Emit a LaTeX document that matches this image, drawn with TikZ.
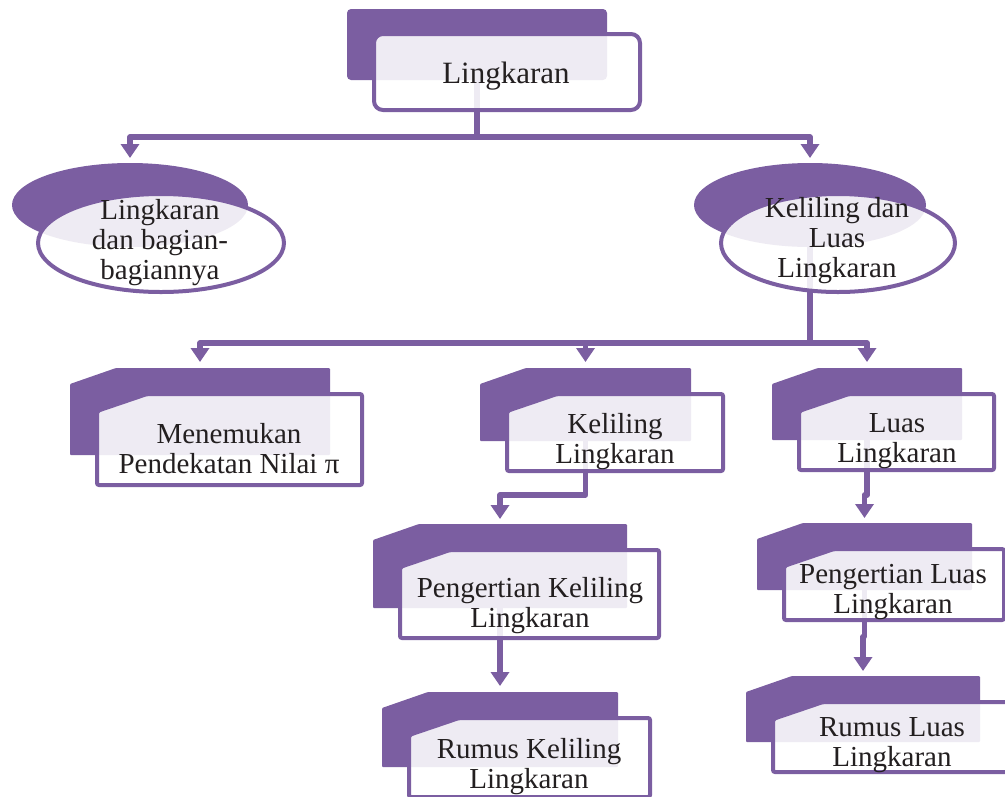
\documentclass[tikz,border=0pt]{standalone}
\usepackage{fontspec}
\setmainfont{Liberation Serif}
\usetikzlibrary{arrows.meta,shapes.geometric}
\definecolor{ungu}{RGB}{123,94,161}
\definecolor{tinta}{RGB}{35,31,32}
\tikzset{
  belakang/.style={inner sep=0pt, outer sep=0pt},
  muka/.style={draw=ungu, line width=4pt, fill=white, fill opacity=0.88, rounded corners=2pt},
  panah/.style={draw=ungu, line width=5.5pt, line join=round, -{Triangle[width=18pt,length=14pt]}},
  tulisan/.style={align=center, inner sep=0pt, text=tinta, font=\fontsize{29}{30}\selectfont}
}
% back shape with cut corner, then the front box over it
\newcommand{\kotak}[1]{%
  \fill[ungu, rounded corners=1pt] ([shift={(0,16)}]#1.north west) -- ([shift={(46,0)}]#1.north west)
    -- (#1.north east) -- (#1.south east) -- (#1.south west) -- cycle;
  \filldraw[muka] ([shift={(27,43)}]#1.north west) -- ([shift={(77,26)}]#1.north west)
    -- ([shift={(32,26)}]#1.north east) -- ([shift={(32,30)}]#1.south east)
    -- ([shift={(27,30)}]#1.south west) -- cycle;
}
\begin{document}
\begin{tikzpicture}[x=1pt,y=-1pt]
	\useasboundingbox (0,0) rectangle (1005,796);
	\clip (0,0) rectangle (1005,796);
	% back shapes
	\node[belakang, minimum width=260pt, minimum height=71pt] (lingk) at (477,44.5) {};
	\node[belakang, ellipse, fill=ungu, minimum width=236pt, minimum height=84pt] (bag) at (130,205) {};
	\node[belakang, ellipse, fill=ungu, minimum width=232pt, minimum height=84pt] (kl) at (810,205) {};
	\node[belakang, minimum width=260pt, minimum height=87pt] (nilai) at (200,411.5) {};
	\node[belakang, minimum width=211pt, minimum height=73pt] (kel) at (585.5,404.5) {};
	\node[belakang, minimum width=190pt, minimum height=72pt] (luas) at (867,404) {};
	\node[belakang, minimum width=254pt, minimum height=84pt] (pkel) at (500,566) {};
	\node[belakang, minimum width=236pt, minimum height=75pt] (rkel) at (500,729.5) {};
	\node[belakang, minimum width=215pt, minimum height=67pt] (pluas) at (864.5,556.5) {};
	\node[belakang, minimum width=234pt, minimum height=66pt] (rluas) at (863,709) {};

	% connectors
	\draw[panah] (lingk.center) -- ++(0,92.5) -| ([yshift=5pt]bag.north);
	\draw[panah] (lingk.center) -- ++(0,92.5) -| ([yshift=5pt]kl.north);
	\draw[panah] (kl.center) -- ++(0,138) -| ([yshift=6pt]nilai.north);
	\draw[panah] (kl.center) -- ++(0,138) -| ([yshift=6pt]kel.north);
	\draw[panah] (kl.center) -- ++(0,138) -| ([yshift=6pt]luas.north);
	\draw[panah] (kel.center) -- ++(0,90.5) -| ([yshift=5pt]pkel.north);
	\draw[panah] (pkel.center) -- ([yshift=6pt]rkel.north);
	\draw[panah] (luas.center) -- ++(0,91) -| ([yshift=5pt]pluas.north);
	\draw[panah] (pluas.center) -- ++(0,80) -| ([yshift=5pt]rluas.north);

	% boxes
	\fill[ungu, rounded corners=4pt] (lingk.north west) rectangle (lingk.south east);
	\filldraw[muka, rounded corners=9pt] ([shift={(27,25)}]lingk.north west) rectangle ([shift={(33,30)}]lingk.south east);
	\filldraw[muka] ([shift={(31,38)}]bag.center) ellipse [x radius=123, y radius=49];
	\filldraw[muka] ([shift={(28,38)}]kl.center) ellipse [x radius=117, y radius=49];
	\kotak{nilai}
	\kotak{kel}
	\kotak{luas}
	\kotak{pkel}
	\kotak{rkel}
	\kotak{pluas}
	\kotak{rluas}

	% texts
	\node[tulisan, font=\fontsize{31}{32}\selectfont] (lingk-t) at (506,76) {Lingkaran};
	\node[tulisan] (bag-t) at (160,242.5) {Lingkaran\\dan bagian-\\bagiannya};
	\node[tulisan] (kl-t) at (837,241) {Keliling dan\\Luas\\Lingkaran};
	\node[tulisan] (nilai-t) at (229,449) {Menemukan\\Pendekatan Nilai π};
	\node[tulisan] (kel-t) at (615,442) {Keliling\\Lingkaran};
	\node[tulisan] (luas-t) at (897,441) {Luas\\Lingkaran};
	\node[tulisan] (pkel-t) at (530,605.5) {Pengertian Keliling\\Lingkaran};
	\node[tulisan] (rkel-t) at (529,766.5) {Rumus Keliling\\Lingkaran};
	\node[tulisan] (pluas-t) at (893,592) {Pengertian Luas\\Lingkaran};
	\node[tulisan] (rluas-t) at (892,745) {Rumus Luas\\Lingkaran};
\end{tikzpicture}
\end{document}
